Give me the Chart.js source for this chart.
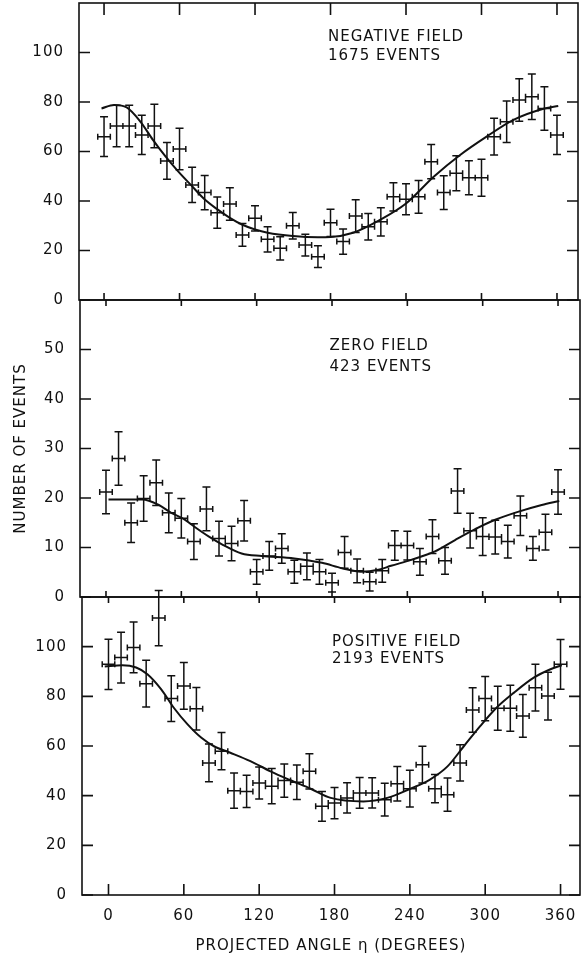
<!DOCTYPE html>
<html>
<head>
<meta charset="utf-8">
<script src="https://cdn.jsdelivr.net/npm/chart.js@4.4.1/dist/chart.umd.min.js"></script>
<style>
  html, body { margin: 0; padding: 0; background: #fff; overflow: hidden; }
  #wrap { position: relative; width: 583px; height: 958px; }
  #wrap canvas { position: absolute; left: 0; top: 0; }
</style>
</head>
<body>
<div id="wrap">
  <canvas id="negChart" width="583" height="958"></canvas>
  <canvas id="zeroChart" width="583" height="958"></canvas>
  <canvas id="posChart" width="583" height="958"></canvas>
</div>
<script>
// bin centres (the 0 bin is repeated at 360)
const angles = [0, 10, 20, 30, 40, 50, 60, 70, 80, 90, 100, 110, 120, 130, 140, 150, 160, 170, 180,
                190, 200, 210, 220, 230, 240, 250, 260, 270, 280, 290, 300, 310, 320, 330, 340, 350, 360];

// negative field, 1675 events
const negCounts = [66, 70.3, 70.3, 66.7, 70.3, 56.2, 61, 46.5, 43.4, 35.3, 38.8, 26.3, 33, 24.5, 20.9, 30, 22.2, 17.5, 31.2,
                   23.6, 33.9, 29.6, 31.6, 41.7, 40.7, 41.7, 55.9, 43.4, 51.2, 49.4, 49.4, 66, 72, 80.8, 82.1, 77.4, 66.7];
const negErrors = [8, 8.4, 8.4, 7.9, 8.8, 7.4, 8.4, 7.1, 6.9, 6.3, 6.6, 4.6, 5.1, 5.1, 4.7, 5.4, 4.4, 4.4, 5.5,
                   5.1, 6.6, 5.4, 5.7, 5.7, 6.3, 6.6, 6.9, 6.8, 7.1, 6.9, 7.5, 7.4, 8.4, 8.6, 9.2, 8.8, 7.9];
const negFitX = [-2, 8, 18, 29, 39, 49, 58, 69, 79, 89, 100, 110, 120, 130, 150, 170, 180, 198, 219, 240, 262, 283, 304, 325, 350, 361];
const negFitY = [77.4, 78.8, 77.8, 72.0, 64.6, 57.9, 52.5, 46.5, 41.1, 37.0, 33.2, 30.4, 28.5, 27.2, 25.9, 25.4, 25.5, 27.2, 32.3,
                 39.0, 49.8, 58.6, 66.0, 72.7, 77.4, 78.4];

// zero field, 423 events
const zeroCounts = [21.2, 28.0, 15.0, 19.9, 23.1, 17.0, 15.9, 11.2, 17.8, 11.8, 10.8, 15.4, 5.1, 8.3, 9.8, 5.1, 6.2, 5.1, 2.9,
                    9.0, 5.3, 3.1, 5.3, 10.4, 10.4, 7.1, 12.2, 7.3, 21.4, 13.4, 12.2, 12.1, 11.2, 16.4, 9.8, 13.1, 21.2];
const zeroErrors = [4.4, 5.4, 4.0, 4.6, 4.6, 4.0, 4.0, 3.6, 4.4, 3.5, 3.5, 4.1, 2.5, 2.9, 3.0, 2.3, 2.7, 2.5, 1.9,
                    3.2, 2.4, 1.9, 2.3, 3.0, 2.9, 2.7, 3.4, 2.7, 4.5, 3.5, 3.8, 3.4, 3.3, 4.0, 2.4, 3.6, 4.5];
const zeroFitX = [2, 29, 42, 52, 63, 71, 82, 92, 108, 124, 150, 172, 188, 203, 217, 227, 243, 262, 278, 294, 310, 328, 347, 361];
const zeroFitY = [19.7, 19.7, 18.6, 17.0, 15.6, 14.1, 12.2, 10.7, 8.8, 8.3, 7.8, 6.9, 5.8, 5.1, 5.5, 6.3, 7.5, 9.2, 11.5,
                  13.7, 15.6, 17.2, 18.6, 19.4];

// positive field, 2193 events
const posCounts = [92.9, 95.6, 99.7, 85.1, 111.5, 79.1, 84.2, 75, 53.2, 57.9, 42.0, 41.7, 45.1, 43.8, 46.1, 45.4, 49.8, 35.7, 37.0,
                   39.1, 41.1, 41.1, 38.4, 44.8, 42.8, 52.5, 42.8, 40.4, 53.2, 74.5, 79.1, 75.2, 75.2, 72.1, 83.5, 80.1, 92.9];
const posErrors = [10.1, 10.2, 10.2, 9.4, 11.1, 9.2, 9.4, 8.6, 7.6, 7.5, 7.1, 6.5, 6.4, 7.1, 6.7, 6.9, 7.1, 6.0, 6.3,
                   6.1, 6.2, 6.1, 6.6, 6.9, 7.4, 7.4, 5.7, 6.7, 7.3, 9.0, 8.9, 8.9, 9.3, 8.6, 9.4, 9.6, 10.0];
const posFitX = [-3, 11, 22, 31, 42, 52, 63, 74, 84, 97, 113, 129, 145, 161, 177, 203, 222, 240, 256, 270, 283, 296, 309, 323, 339, 352, 361];
const posFitY = [92.0, 92.5, 91.6, 88.9, 82.8, 75.4, 68.7, 63.3, 59.9, 57.3, 53.9, 49.8, 46.2, 42.8, 39.1, 37.7, 39.1, 42.7, 46.5,
                 51.8, 59.9, 68.0, 75.4, 81.5, 87.6, 90.9, 92.5];

const angleTicks = [0, 60, 120, 180, 240, 300, 360];
const negTicks = [0, 20, 40, 60, 80, 100];
const zeroTicks = [0, 10, 20, 30, 40, 50];
const posTicks = [0, 20, 40, 60, 80, 100];

const BIN_HALF = 5;
const INK = '#111';

Chart.defaults.font.family = '"DejaVu Sans", sans-serif';
Chart.defaults.font.size = 15;
Chart.defaults.color = INK;

// wide lettering like the original
const spacing = {
    id: 'spacing',
    beforeDraw(chart) {
        chart.ctx.letterSpacing = '1px';
    }
};

// box round the panel plus inward tick marks on all four sides
function frameTicks(topLen, bottomLen) {
    return {
        id: 'frameTicks',
        afterDraw(chart) {
            const { ctx, chartArea: a, scales: { x, y } } = chart;
            ctx.save();
            ctx.strokeStyle = INK;
            ctx.lineWidth = 1.6;
            ctx.strokeRect(a.left, a.top, a.right - a.left, a.bottom - a.top);
            ctx.beginPath();
            angleTicks.forEach(v => {
                const px = x.getPixelForValue(v);
                ctx.moveTo(px, a.top);
                ctx.lineTo(px, a.top + topLen);
                ctx.moveTo(px, a.bottom);
                ctx.lineTo(px, a.bottom - bottomLen);
            });
            y.ticks.forEach(t => {
                const py = y.getPixelForValue(t.value);
                ctx.moveTo(a.left, py);
                ctx.lineTo(a.left + 11, py);
                ctx.moveTo(a.right, py);
                ctx.lineTo(a.right - 11, py);
            });
            ctx.stroke();
            ctx.restore();
        }
    };
}

// error crosses: +-sigma vertically, +-half bin horizontally, with end caps
const crossBars = {
    id: 'crossBars',
    afterDatasetsDraw(chart) {
        const { ctx, scales: { x, y } } = chart;
        chart.data.datasets.forEach(ds => {
            if (!ds.yErr) return;
            ctx.save();
            ctx.strokeStyle = INK;
            ctx.lineWidth = 1.5;
            ctx.beginPath();
            ds.data.forEach((p, i) => {
                const cx = x.getPixelForValue(p.x);
                const cy = y.getPixelForValue(p.y);
                const x0 = x.getPixelForValue(p.x - BIN_HALF);
                const x1 = x.getPixelForValue(p.x + BIN_HALF);
                const y0 = y.getPixelForValue(p.y - ds.yErr[i]);
                const y1 = y.getPixelForValue(p.y + ds.yErr[i]);
                ctx.moveTo(cx, y0); ctx.lineTo(cx, y1);
                ctx.moveTo(cx - 4, y0); ctx.lineTo(cx + 4, y0);
                ctx.moveTo(cx - 4, y1); ctx.lineTo(cx + 4, y1);
                ctx.moveTo(x0, cy); ctx.lineTo(x1, cy);
                ctx.moveTo(x0, cy - 3); ctx.lineTo(x0, cy + 3);
                ctx.moveTo(x1, cy - 3); ctx.lineTo(x1, cy + 3);
            });
            ctx.stroke();
            ctx.restore();
        });
    }
};

function panelLabel(lines, at, levels) {
    return {
        id: 'panelLabel',
        afterDraw(chart) {
            const { ctx, scales: { x, y } } = chart;
            ctx.save();
            ctx.fillStyle = INK;
            ctx.font = '15px "DejaVu Sans"';
            ctx.letterSpacing = '1px';
            ctx.textBaseline = 'middle';
            ctx.textAlign = 'left';
            const px = x.getPixelForValue(at);
            lines.forEach((t, i) => ctx.fillText(t, px, y.getPixelForValue(levels[i])));
            ctx.restore();
        }
    };
}

function makePanel(id, cfg) {
    return new Chart(document.getElementById(id), {
        type: 'scatter',
        data: {
            datasets: [{
                data: cfg.counts.map((c, i) => ({ x: angles[i], y: c })),
                yErr: cfg.errors,
                pointRadius: 0,
            }, {
                type: 'line',
                data: cfg.fitX.map((a, i) => ({ x: a, y: cfg.fitY[i] })),
                borderColor: INK,
                borderWidth: 2,
                pointRadius: 0,
                fill: false,
                cubicInterpolationMode: 'monotone',
            }],
        },
        options: {
            responsive: false,
            animation: false,
            events: [],
            devicePixelRatio: 1,
            layout: {
                padding: { left: 4, right: 583 - cfg.right, top: cfg.top, bottom: cfg.bottomPad },
            },
            plugins: {
                legend: { display: false },
                tooltip: { enabled: false },
            },
            scales: {
                x: {
                    type: 'linear',
                    min: cfg.xMin,
                    max: cfg.xMax,
                    display: cfg.showX,
                    afterBuildTicks: s => { s.ticks = angleTicks.map(v => ({ value: v })); },
                    afterFit: s => {
                        s.height = cfg.showX ? 63 : 0;
                        s.paddingLeft = 0;
                        s.paddingRight = 0;
                    },
                    grid: { display: false },
                    border: { display: false },
                    ticks: { padding: 4, color: INK },
                    title: {
                        display: cfg.showX,
                        text: 'PROJECTED ANGLE η (DEGREES)',
                        color: INK,
                        padding: { top: 0, bottom: 3 },
                    },
                },
                y: {
                    min: 0,
                    max: cfg.yMax,
                    afterBuildTicks: s => { s.ticks = cfg.yTicks.map(v => ({ value: v })); },
                    afterFit: s => {
                        s.width = cfg.left - 4;
                        s.paddingTop = 0;
                        s.paddingBottom = 0;
                    },
                    grid: { display: false },
                    border: { display: false },
                    ticks: { padding: 7, color: INK },
                    title: {
                        display: !!cfg.yTitle,
                        text: cfg.yTitle || '',
                        color: INK,
                        padding: { top: 8, bottom: 0 },
                    },
                },
            },
        },
        plugins: [spacing, frameTicks(cfg.topLen, cfg.bottomLen), crossBars, panelLabel(cfg.label, 178, cfg.labelLevels)],
    });
}

makePanel('negChart', {
    counts: negCounts, errors: negErrors, fitX: negFitX, fitY: negFitY,
    yMax: 120, yTicks: negTicks,
    left: 79, right: 578, top: 3, bottomPad: 658,
    xMin: -19.9, xMax: 376.7, showX: false,
    topLen: 12, bottomLen: 7,
    label: ['NEGATIVE FIELD', '1675 EVENTS'], labelLevels: [106.3, 98.6],
});

makePanel('zeroChart', {
    counts: zeroCounts, errors: zeroErrors, fitX: zeroFitX, fitY: zeroFitY,
    yMax: 60, yTicks: zeroTicks,
    left: 80, right: 580, top: 300, bottomPad: 361,
    xMin: -20.7, xMax: 377.5, showX: false,
    topLen: 6, bottomLen: 6,
    yTitle: 'NUMBER OF EVENTS',
    label: ['ZERO FIELD', '423 EVENTS'], labelLevels: [50.6, 46.5],
});

makePanel('posChart', {
    counts: posCounts, errors: posErrors, fitX: posFitX, fitY: posFitY,
    yMax: 120, yTicks: posTicks,
    left: 82, right: 580, top: 597, bottomPad: 0,
    xMin: -21.1, xMax: 375.5, showX: true,
    topLen: 6, bottomLen: 11,
    label: ['POSITIVE FIELD', '2193 EVENTS'], labelLevels: [101.8, 95],
});
</script>
</body>
</html>
